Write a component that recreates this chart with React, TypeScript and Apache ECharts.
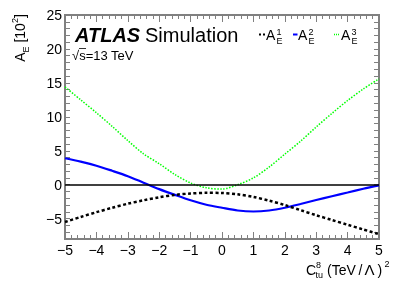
import React, { useEffect, useRef } from "react";
import * as echarts from "echarts";

const xValues = [-5, -4.5, -4, -3.5, -3, -2.5, -2, -1.5, -1, -0.5, 0, 0.5, 1, 1.5, 2, 2.5, 3, 3.5, 4, 4.5, 5];
const a1Values = [-5.5, -4.75, -4.05, -3.4, -2.8, -2.3, -1.85, -1.5, -1.3, -1.2, -1.22, -1.42, -1.8, -2.35, -3.0, -3.75, -4.5, -5.2, -5.9, -6.6, -7.3];
const a2Values = [3.9, 3.4, 2.8, 2.05, 1.25, 0.3, -0.65, -1.5, -2.3, -2.95, -3.4, -3.8, -3.95, -3.8, -3.4, -2.85, -2.25, -1.7, -1.15, -0.6, -0.1];
const a3Values = [14.4, 12.5, 10.6, 8.6, 6.5, 4.55, 3.1, 1.5, 0.25, -0.45, -0.65, 0.0, 1.0, 2.6, 4.5, 6.4, 8.5, 10.5, 12.4, 14.1, 15.6];
const yMajorTicks = [-5, 0, 5, 10, 15, 20, 25];
const Y_MIN = -8;
const Y_MAX = 25;

const FONT = '"Liberation Sans", Arial, Helvetica, sans-serif';
const AXIS_COLOR = "#808080";

const pairs = (ys: number[]) => xValues.map((x, i) => [x, ys[i]]);
const fmt = (v: number) => (v < 0 ? "\u2212" + Math.abs(v) : String(v));

export default function App() {
  const ref = useRef<HTMLDivElement>(null);
  useEffect(() => {
    if (!ref.current) return;
    const chart = echarts.init(ref.current, undefined, { renderer: "svg" });
    const xAxisDef = (pos: "bottom" | "top", labels: boolean) => ({
      type: "value",
      position: pos,
      min: -5,
      max: 5,
      interval: 1,
      axisLine: { show: true, onZero: false, lineStyle: { color: AXIS_COLOR, width: 2 } },
      axisTick: { show: true, inside: true, length: 7, lineStyle: { color: AXIS_COLOR, width: 1 } },
      minorTick: { show: true, splitNumber: 5, length: 4, lineStyle: { color: AXIS_COLOR, width: 1 } },
      splitLine: { show: false },
      axisLabel: labels
        ? { show: true, color: "#000", fontSize: 14, fontFamily: FONT, margin: 4, formatter: fmt }
        : { show: false },
    });
    const yAxisDef = (pos: "left" | "right", labels: boolean) => ({
      type: "value",
      position: pos,
      min: Y_MIN,
      max: Y_MAX,
      interval: 1,
      axisLine: { show: true, onZero: false, lineStyle: { color: AXIS_COLOR, width: 2 } },
      axisTick: { show: true, inside: true, length: 5, lineStyle: { color: AXIS_COLOR, width: 1 } },
      splitLine: { show: false },
      axisLabel: labels
        ? {
            show: true,
            color: "#000",
            fontSize: 14,
            fontFamily: FONT,
            margin: 3,
            formatter: (v: number) => (yMajorTicks.indexOf(v) >= 0 ? fmt(v) : ""),
          }
        : { show: false },
    });

    const t = (x: number, y: number, text: string, size: number) => ({
      type: "text",
      x,
      y,
      style: { text, font: `${size}px ${FONT}`, fill: "#000", verticalAlign: "middle", align: "left" },
    });
    const legendText = (x: number, sup: string) => [
      t(x, 35, "A", 14),
      t(x + 10.5, 31.5, sup, 9),
      t(x + 10.5, 41, "E", 9),
    ];

    chart.setOption({
      animation: false,
      grid: { left: 65, right: 20, top: 15, bottom: 47, show: true, borderColor: AXIS_COLOR, borderWidth: 2, backgroundColor: "transparent" },
      xAxis: [xAxisDef("bottom", true), xAxisDef("top", false)],
      yAxis: [yAxisDef("left", true), yAxisDef("right", false)],
      series: [
        {
          name: "A3",
          type: "line",
          data: pairs(a3Values),
          smooth: 0.3,
          showSymbol: false,
          lineStyle: { color: "#00ff00", width: 1.5, type: [1.5, 1.5] },
          markLine: {
            silent: true,
            symbol: "none",
            label: { show: false },
            lineStyle: { color: "#000", width: 1.5, type: "solid" },
            data: [{ yAxis: 0 }],
          },
        },
        {
          name: "A2",
          type: "line",
          data: pairs(a2Values),
          smooth: 0.3,
          showSymbol: false,
          lineStyle: { color: "#0000ff", width: 2.2, type: "solid" },
        },
        {
          name: "A1",
          type: "line",
          data: pairs(a1Values),
          smooth: 0.3,
          showSymbol: false,
          lineStyle: { color: "#000", width: 2.5, type: [3, 2.5] },
        },
      ],
      graphic: [
        { type: "text", x: 75, y: 35, style: { text: "ATLAS", font: `italic bold 20px ${FONT}`, fill: "#000", verticalAlign: "middle" } },
        { type: "text", x: 145, y: 35, style: { text: "Simulation", font: `20px ${FONT}`, fill: "#000", verticalAlign: "middle" } },
        { type: "text", x: 72, y: 55, style: { text: "\u221As=13 TeV", font: `13px ${FONT}`, fill: "#000", verticalAlign: "middle" } },
        { type: "line", shape: { x1: 79, y1: 48.5, x2: 86, y2: 48.5 }, style: { stroke: "#000", lineWidth: 0.8 } },
        // legend
        { type: "line", shape: { x1: 259, y1: 34.5, x2: 265, y2: 34.5 }, style: { stroke: "#000", lineWidth: 2, lineDash: [2, 2] } },
        ...legendText(266, "1"),
        { type: "line", shape: { x1: 293, y1: 34.5, x2: 297.5, y2: 34.5 }, style: { stroke: "#0000ff", lineWidth: 2 } },
        ...legendText(298, "2"),
        { type: "line", shape: { x1: 334, y1: 34.5, x2: 340, y2: 34.5 }, style: { stroke: "#00ff00", lineWidth: 1.5, lineDash: [1, 1] } },
        ...legendText(341, "3"),
        // x axis name
        t(306, 269.5, "C", 14),
        t(316, 264.5, "8", 9),
        t(315.5, 274.5, "tu", 9),
        t(327, 269.5, "(TeV", 14),
        t(358.5, 269.5, "/", 14),
        { type: "text", x: 364.5, y: 269.5, style: { text: "\u039B", font: `15px ${FONT}`, fill: "#000", verticalAlign: "middle", align: "left" } },
        t(377.5, 269.5, ")", 14),
        t(384.5, 264, "2", 9),
        // y axis name
        {
          type: "text",
          x: 20,
          y: 38,
          rotation: Math.PI / 2,
          style: {
            text: "{a|A}{s|E}{b| [10}{p|2}{b|]}",
            align: "center",
            verticalAlign: "middle",
            fill: "#000",
            rich: {
              a: { fontSize: 14, fontFamily: FONT, lineHeight: 20, verticalAlign: "middle" },
              b: { fontSize: 14, fontFamily: FONT, lineHeight: 20, verticalAlign: "middle" },
              s: { fontSize: 9, fontFamily: FONT, lineHeight: 20, verticalAlign: "bottom" },
              p: { fontSize: 9, fontFamily: FONT, lineHeight: 20, verticalAlign: "top" },
            },
          },
        },
      ],
    } as any);
    return () => chart.dispose();
  }, []);
  return <div ref={ref} style={{ position: "fixed", left: 0, top: 0, width: 399, height: 286 }} />;
}
